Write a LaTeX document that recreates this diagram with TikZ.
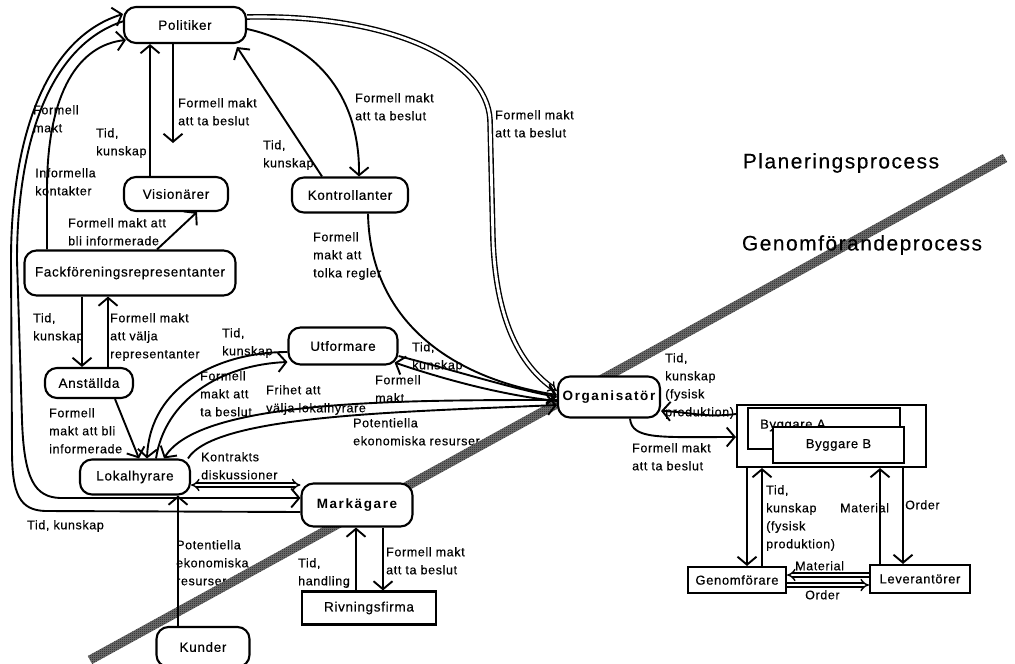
\documentclass[tikz,border=0pt]{standalone}
\usepackage{fontspec}
\setmainfont{Liberation Sans}[LetterSpace=5, FakeBold=0.4]
\newfontfamily\boldwide{Liberation Sans Bold}[LetterSpace=12]
\newfontfamily\headfont{Liberation Sans}[LetterSpace=7, FakeBold=0.3]
\usetikzlibrary{arrows.meta,patterns}
% fine halftone checker for the dividing band
\pgfdeclarepatternformonly{finecheck}{\pgfpointorigin}{\pgfpoint{2pt}{2pt}}{\pgfpoint{2pt}{2pt}}{%
  \pgfpathrectangle{\pgfpointorigin}{\pgfpoint{1.05pt}{1.05pt}}%
  \pgfpathrectangle{\pgfpoint{1pt}{1pt}}{\pgfpoint{1.05pt}{1.05pt}}%
  \pgfusepath{fill}}
\pgfdeclarelayer{flows}
\pgfsetlayers{flows,main}
\tikzset{
  box/.style={draw, line width=2.1pt, fill=white, inner sep=0pt, font=\fontsize{13.5}{16}\selectfont},
  pill/.style={box, rounded corners=12pt},
  boldpill/.style={pill, font=\boldwide\fontsize{13.5}{16}\selectfont},
  smallbox/.style={box, font=\fontsize{13}{16}\selectfont},
  flow/.style={line width=1.9pt, -{Straight Barb[length=8pt,width=19pt]}},
  dflow/.style={double, double distance=2.8pt, line width=1.4pt, -{Implies}},
  lbl/.style={anchor=north west, inner sep=0pt, align=left, font=\fontsize{12.5}{18}\selectfont},
  head/.style={inner sep=0pt, font=\headfont\fontsize{21}{24}\selectfont},
}
\begin{document}
\begin{tikzpicture}[x=1pt,y=-1pt]
\useasboundingbox (0,0) rectangle (1015,664);

% ---------- actors ----------
\node[pill, minimum width=122pt, minimum height=36pt] (pol) at (185,25) {Politiker};
\node[pill, minimum width=104pt, minimum height=34pt] (vis) at (176,194) {Visionärer};
\node[pill, minimum width=116pt, minimum height=35pt] (kon) at (350,195) {Kontrollanter};
\node[pill, minimum width=211pt, minimum height=45pt] (fack) at (130,273) {Fackföreningsrepresentanter};
\node[pill, minimum width=88pt, minimum height=30pt] (anst) at (89,383) {Anställda};
\node[pill, minimum width=109pt, minimum height=37pt] (utf) at (343,346) {Utformare};
\node[boldpill, minimum width=102pt, minimum height=41pt] (org) at (609,397) {Organisatör};
\node[pill, minimum width=110pt, minimum height=35pt] (lok) at (135,477) {Lokalhyrare};
\node[boldpill, minimum width=111pt, minimum height=43pt] (mark) at (357,505) {Markägare};
\node[box, minimum width=134pt, minimum height=33pt] (riv) at (369,608) {Rivningsfirma};
\node[pill, minimum width=93pt, minimum height=40pt] (kund) at (203,647) {Kunder};

% builders
\node[box, minimum width=189pt, minimum height=62pt] (bygg) at (831.5,436) {};
\node[box, minimum width=152pt, minimum height=41pt] (byga) at (824,428.5) {};
\node[inner sep=0pt, anchor=west, font=\fontsize{13}{16}\selectfont] (bygatext) at (760,425.5) {Byggare A};
\node[smallbox, minimum width=131pt, minimum height=36pt] (bygb) at (838.5,445) {Byggare B};
\node[smallbox, minimum width=98pt, minimum height=26pt] (gen) at (737,580) {Genomförare};
\node[smallbox, minimum width=100pt, minimum height=28pt] (lev) at (920,579) {Leverantörer};

% process headings
\node[head] (plan) at (841,163) {Planeringsprocess};
\node[head] (genp) at (862,245) {Genomförandeprocess};

\coordinate (pdown) at (173,143);

\begin{pgfonlayer}{flows}
% ---------- flow labels ----------
\node[lbl] (l1) at (178,98) {Formell makt\\att ta beslut};
\node[lbl] (l2) at (96,128) {Tid,\\kunskap};
\node[lbl] (l3) at (263,140) {Tid,\\kunskap};
\node[lbl] (l4) at (355,93) {Formell makt\\att ta beslut};
\node[lbl] (l5) at (495,110) {Formell makt\\att ta beslut};
\node[lbl] (l6) at (35,168) {Informella\\kontakter};
\node[lbl] (l7) at (33,105) {Formell\\makt};
\node[lbl] (l8) at (68,218) {Formell makt att\\bli informerade};
\node[lbl] (l9) at (313,232) {Formell\\makt att\\tolka regler};
\node[lbl] (l10) at (33,313) {Tid,\\kunskap};
\node[lbl] (l11) at (110,313) {Formell makt\\att välja\\representanter};
\node[lbl] (l12) at (222,328) {Tid,\\kunskap};
\node[lbl] (l13) at (200,371) {Formell\\makt att\\ta beslut};
\node[lbl] (l14) at (266,385) {Frihet att\\välja lokalhyrare};
\node[lbl] (l15) at (412,342) {Tid,\\kunskap};
\node[lbl] (l16) at (375,375) {Formell\\makt};
\node[lbl] (l17) at (353,418) {Potentiella\\ekonomiska resurser};
\node[lbl] (l18) at (49,408) {Formell\\makt att bli\\informerade};
\node[lbl] (l19) at (201,452) {Kontrakts\\diskussioner};
\node[lbl] (l20) at (27,520) {Tid, kunskap};
\node[lbl] (l21) at (176,540) {Potentiella\\ekonomiska\\resurser};
\node[lbl] (l22) at (298,558) {Tid,\\handling};
\node[lbl] (l23) at (386,547) {Formell makt\\att ta beslut};
\node[lbl] (l24) at (665,353) {Tid,\\kunskap\\(fysisk\\produktion)};
\node[lbl] (l25) at (632,443) {Formell makt\\att ta beslut};
\node[lbl] (l26) at (766,485) {Tid,\\kunskap\\(fysisk\\produktion)};
\node[lbl] (l27) at (840,503) {Material};
\node[lbl] (l28) at (905,500) {Order};
\node[lbl] (l29) at (795,561) {Material};
\node[lbl] (l30) at (805,590) {Order};

% ---------- dividing band ----------
\fill[black!55] (87.8,656) -- (1002.8,154) -- (1007.2,162) -- (92.2,664) -- cycle;
\fill[pattern=finecheck, pattern color=black!90] (87.8,656) -- (1002.8,154) -- (1007.2,162) -- (92.2,664) -- cycle;

% ---------- flows ----------
% Politiker
\draw[dflow] ([yshift=8pt]pol.east) .. controls (390,14) and (487,60) .. (490,120)
  -- (493,240) .. controls (496,320) and (520,365) .. ([yshift=6pt]org.west);
\draw[flow] ([yshift=-4pt]pol.east) .. controls (320,45) and (360,100) .. ([xshift=9pt]kon.north);
\draw[flow] ([xshift=-28pt]kon.north) -- ([xshift=52pt,yshift=-3pt]pol.south);
\draw[flow] ([xshift=-12pt]pol.south) -- (pdown);
\draw[flow] ([xshift=-26pt]vis.north) -- ([xshift=-35pt]pol.south);
\draw[flow] ([xshift=27pt]fack.north) -- ([xshift=21pt]vis.south);
\draw[flow] ([xshift=-83pt]fack.north) -- (47,190) .. controls (47,90) and (80,45) .. (126,40);
% left-hand loop between Politiker and Markägare
\draw[flow] ([yshift=-7pt]mark.west) -- (45,511) .. controls (20,510) and (12,495) .. (12,450)
  -- (11,260) .. controls (11,150) and (40,40) .. (123,14);
\draw[flow] (124,21) .. controls (46,46) and (17,150) .. (17,260) -- (22,420)
  .. controls (24,480) and (35,497) .. (60,498) -- ([yshift=7pt]mark.west);
% Fackföreningsrepresentanter / Anställda
\draw[flow] ([xshift=-48pt]fack.south) -- ([xshift=-7pt]anst.north);
\draw[flow] ([xshift=19pt]anst.north) -- ([xshift=-22pt]fack.south);
\draw[flow] ([xshift=26pt]anst.south) -- ([xshift=4pt]lok.north);
% Kontrollanter / Utformare / Organisatör
\draw[flow] ([xshift=18pt]kon.south) .. controls (370,320) and (450,378) .. ([yshift=2pt]org.west);
\draw[flow] ([yshift=-10pt]utf.east) .. controls (460,372) and (510,388) .. (org.west);
\draw[flow] ([yshift=-4pt]org.west) .. controls (500,395) and (440,378) .. ([xshift=-4pt,yshift=3pt]utf.south east);
% Utformare / Lokalhyrare
\draw[flow] ([yshift=-6pt]utf.west) .. controls (220,352) and (150,385) .. ([xshift=12pt]lok.north);
\draw[flow] ([xshift=21pt]lok.north) .. controls (165,400) and (220,365) .. ([yshift=-16pt]utf.west);
% Organisatör / Lokalhyrare
\draw[flow] ([yshift=-3pt]org.west) .. controls (400,400) and (200,400) .. ([xshift=29pt]lok.north);
\draw[flow] ([xshift=53pt]lok.north) .. controls (215,415) and (400,412) .. ([yshift=-8pt]org.west);
% Lokalhyrare / Markägare / Kunder / Rivningsfirma
\draw[dflow, {Implies}-{Implies}] ([yshift=-8pt]lok.east) -- ([yshift=20pt]mark.west);
\draw[flow] ([xshift=-25pt]kund.north) -- ([xshift=43pt]lok.south);
\draw[flow] ([xshift=-13pt]riv.north) -- ([xshift=-1pt]mark.south);
\draw[flow] ([xshift=26pt]mark.south) -- ([xshift=14pt]riv.north);
% Organisatör / Byggare
\draw[flow] ([yshift=22pt]bygg.west) .. controls (705,418) and (690,412) .. ([yshift=-14pt]org.east);
\draw[flow] ([xshift=21pt]org.south) .. controls (632,440) and (660,437) .. ([yshift=-1pt]bygg.west);
% Byggare / Genomförare / Leverantörer
\draw[flow] ([xshift=-84.5pt]bygg.south) -- ([xshift=10pt]gen.north);
\draw[flow] ([xshift=25pt]gen.north) -- ([xshift=-69.5pt]bygg.south);
\draw[flow] ([xshift=-40pt]lev.north) -- ([xshift=48.5pt]bygg.south);
\draw[flow] ([xshift=71.5pt]bygg.south) -- ([xshift=-17pt]lev.north);
\draw[dflow] ([yshift=4pt]lev.west) -- ([yshift=5pt]gen.east);
\draw[dflow] ([yshift=-5pt]gen.east) -- ([yshift=-6pt]lev.west);
\end{pgfonlayer}
\end{tikzpicture}
\end{document}
